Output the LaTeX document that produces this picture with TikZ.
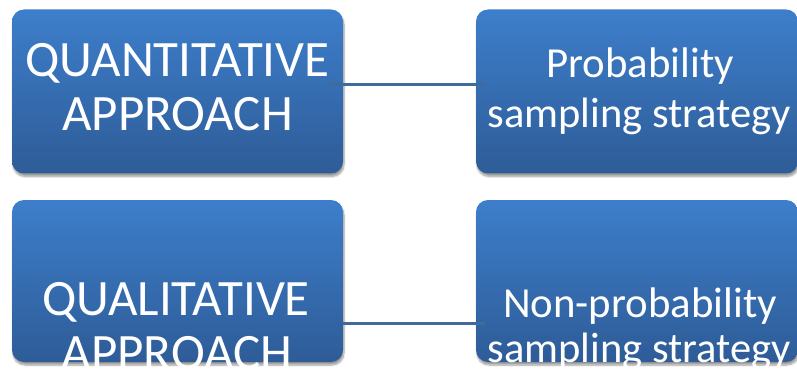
\documentclass[tikz,border=0pt]{standalone}
\usepackage{fontspec}
\setmainfont{Carlito}
\usetikzlibrary{shadows.blur}
\definecolor{boxtop}{HTML}{3D7ECB}
\definecolor{boxbot}{HTML}{2E5C97}
\definecolor{linkblue}{HTML}{3F6A9A}
\tikzset{
  panel/.style={rounded corners=12pt, top color=boxtop, bottom color=boxbot,
    inner sep=0pt, blur shadow={shadow xshift=1pt, shadow yshift=-3pt,
    shadow blur steps=6, shadow opacity=40}},
  bigtxt/.style={text=white, anchor=base, inner sep=0pt, font=\fontsize{51}{60}\selectfont},
  midtxt/.style={text=white, anchor=base, inner sep=0pt, font=\fontsize{42.8}{50}\selectfont},
  link/.style={draw=linkblue, line width=3pt}
}
\begin{document}
\begin{tikzpicture}[x=1pt, y=-1pt]
  \useasboundingbox (0,0) rectangle (797,374);
  \begin{scope}
  \clip (0,0) rectangle (797,374);
  % boxes
  \node[panel, minimum width=331pt, minimum height=164pt] (quan) at (177.5,91.5) {};
  \node[panel, minimum width=322pt, minimum height=164pt] (prob) at (637,91.5) {};
  \node[panel, minimum width=331pt, minimum height=162pt] (qual) at (177.5,281) {};
  \node[panel, minimum width=322pt, minimum height=162pt] (nonp) at (637,281) {};
  % connectors
  \coordinate (l1a) at ([xshift=-15pt]quan.east |- 0,85);
  \coordinate (l1b) at ([xshift=10pt]prob.west |- 0,85);
  \draw[link] (l1a) -- (l1b);
  \coordinate (l2a) at (quan.east |- 0,323);
  \coordinate (l2b) at ([xshift=9pt]nonp.west |- 0,323);
  \draw[link] (l2a) -- (l2b);
  % labels
  \node[bigtxt] (quan1) at (177.5,77) {QUANTITATIVE};
  \node[bigtxt] (quan2) at (177.5,131) {APPROACH};
  \node[midtxt] (prob1) at (640,78) {Probability};
  \node[midtxt, font=\fontsize{42.5}{50}\selectfont] (prob2) at (639,128) {sampling strategy};
  \node[bigtxt] (qual1) at (176,315) {QUALITATIVE};
  \node[bigtxt] (qual2) at (177,369) {APPROACH};
  \node[midtxt] (nonp1) at (640,317) {Non-probability};
  \node[midtxt, font=\fontsize{42.5}{50}\selectfont] (nonp2) at (639,362) {sampling strategy};
  \end{scope}
\end{tikzpicture}
\end{document}
